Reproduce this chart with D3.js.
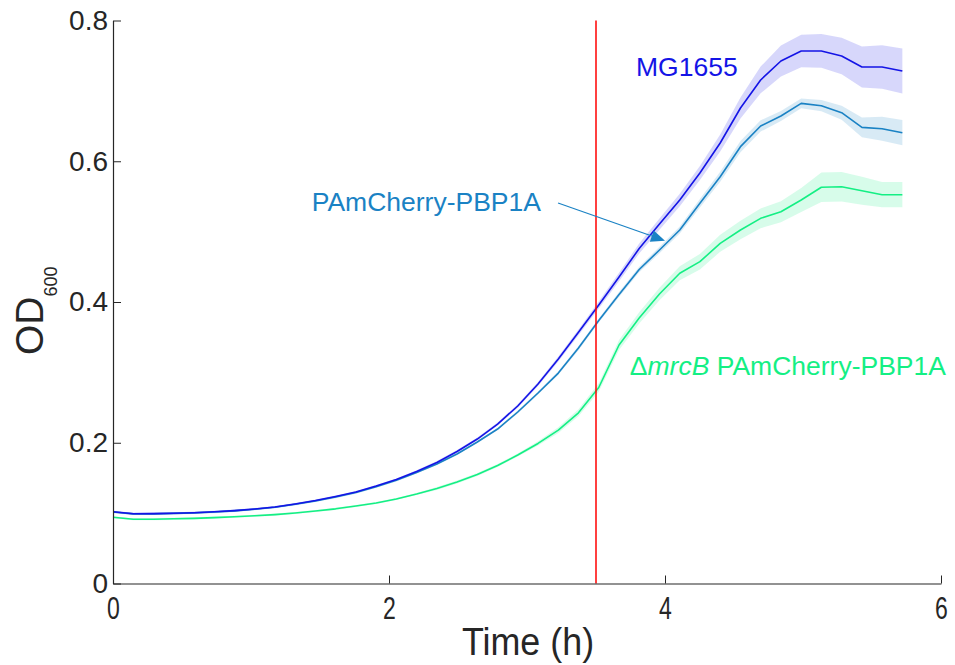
<!DOCTYPE html>
<html>
<head>
<meta charset="utf-8">
<script src="https://cdn.jsdelivr.net/npm/d3@7"></script>
<style>
  html, body { margin: 0; padding: 0; background: #ffffff; }
  svg { display: block; }
  text { font-family: "Liberation Sans", Arial, Helvetica, sans-serif; }
</style>
</head>
<body>
<div id="chart"></div>
<script>
// Growth curves (OD600) sampled over time, mean with standard deviation bands
const timeH = [0, 0.147, 0.293, 0.44, 0.587, 0.733, 0.88, 1.027, 1.173, 1.32,
  1.467, 1.613, 1.76, 1.907, 2.053, 2.2, 2.347, 2.493, 2.64, 2.787,
  2.933, 3.08, 3.227, 3.373, 3.52, 3.667, 3.813, 3.96, 4.107, 4.253,
  4.4, 4.547, 4.693, 4.84, 4.987, 5.133, 5.28, 5.427, 5.573, 5.72];

const mg1655Mean = [0.1020, 0.0992, 0.0993, 0.0999, 0.1006, 0.1019, 0.1036, 0.1059, 0.1087, 0.1130,
  0.1179, 0.1236, 0.1300, 0.1385, 0.1478, 0.1591, 0.1719, 0.1876, 0.2053, 0.2266,
  0.2522, 0.2835, 0.3190, 0.3569, 0.3957, 0.4355, 0.4760, 0.5108, 0.5449, 0.5833,
  0.6259, 0.6757, 0.7155, 0.7425, 0.7567, 0.7567, 0.7496, 0.7339, 0.7339, 0.7282];
const mg1655Sd = [0.0015, 0.0015, 0.0015, 0.0015, 0.0015, 0.0015, 0.0015, 0.0015, 0.0015, 0.0015,
  0.0015, 0.0015, 0.0015, 0.0015, 0.0015, 0.002, 0.002, 0.002, 0.002, 0.002,
  0.0025, 0.003, 0.0035, 0.004, 0.005, 0.006, 0.007, 0.008, 0.009, 0.010,
  0.012, 0.015, 0.019, 0.022, 0.023, 0.024, 0.026, 0.029, 0.031, 0.032];

const pamMean = [0.1015, 0.0990, 0.0990, 0.0996, 0.1003, 0.1015, 0.1032, 0.1055, 0.1083, 0.1125,
  0.1172, 0.1228, 0.1292, 0.1376, 0.1466, 0.1577, 0.1698, 0.1840, 0.2011, 0.2195,
  0.2437, 0.2707, 0.2990, 0.3346, 0.3737, 0.4107, 0.4462, 0.4739, 0.5023, 0.5402,
  0.5780, 0.6207, 0.6501, 0.6643, 0.6823, 0.6789, 0.6690, 0.6482, 0.6462, 0.6406];
const pamSd = [0.0015, 0.0015, 0.0015, 0.0015, 0.0015, 0.0015, 0.0015, 0.0015, 0.0015, 0.0015,
  0.0015, 0.0015, 0.0015, 0.0015, 0.0015, 0.0015, 0.0015, 0.0015, 0.0015, 0.0015,
  0.002, 0.002, 0.0025, 0.003, 0.003, 0.0035, 0.004, 0.0045, 0.005, 0.006,
  0.007, 0.008, 0.008, 0.007, 0.007, 0.008, 0.010, 0.014, 0.017, 0.018];

const mrcbMean = [0.0941, 0.0912, 0.0914, 0.0919, 0.0926, 0.0936, 0.0948, 0.0962, 0.0979, 0.1002,
  0.1030, 0.1061, 0.1101, 0.1144, 0.1201, 0.1272, 0.1350, 0.1442, 0.1549, 0.1677,
  0.1826, 0.1990, 0.2180, 0.2425, 0.2785, 0.3389, 0.3773, 0.4114, 0.4408, 0.4573,
  0.4834, 0.5023, 0.5189, 0.5283, 0.5449, 0.5630, 0.5638, 0.5581, 0.5525, 0.5525];
const mrcbSd = [0.0015, 0.0015, 0.0015, 0.0015, 0.0015, 0.0015, 0.0015, 0.0015, 0.0015, 0.0015,
  0.0015, 0.0015, 0.0015, 0.0015, 0.0015, 0.0015, 0.002, 0.002, 0.002, 0.002,
  0.002, 0.003, 0.004, 0.005, 0.006, 0.007, 0.008, 0.009, 0.010, 0.011,
  0.012, 0.013, 0.014, 0.015, 0.017, 0.021, 0.021, 0.020, 0.018, 0.018];

const xTicks = [0, 2, 4, 6];
const yTicks = [0, 0.2, 0.4, 0.6, 0.8];
const yTickLabels = ["0", "0.2", "0.4", "0.6", "0.8"];
const markerTime = 3.5;

const W = 955, H = 665;
const axisColor = "#262626";

const svg = d3.select("#chart").append("svg")
  .attr("width", W).attr("height", H);

const x = d3.scaleLinear().domain([0, 6]).range([113, 941]);
const y = d3.scaleLinear().domain([0, 0.8]).range([583.5, 20.5]);

const series = [
  { name: "mrcB", mean: mrcbMean, sd: mrcbSd, color: "#14ef84" },
  { name: "pam", mean: pamMean, sd: pamSd, color: "#1a82c4" },
  { name: "mg1655", mean: mg1655Mean, sd: mg1655Sd, color: "#1414e6" }
];

const area = d3.area()
  .x(d => x(d.t))
  .y0(d => y(d.m - d.s))
  .y1(d => y(d.m + d.s));
const line = d3.line()
  .x(d => x(d.t))
  .y(d => y(d.m));

const plot = svg.append("g");
series.forEach(s => {
  const pts = timeH.map((t, i) => ({ t: t, m: s.mean[i], s: s.sd[i] }));
  plot.append("path")
    .datum(pts)
    .attr("d", area)
    .attr("fill", s.color)
    .attr("fill-opacity", 0.17)
    .attr("stroke", "none");
});
series.forEach(s => {
  const pts = timeH.map((t, i) => ({ t: t, m: s.mean[i], s: s.sd[i] }));
  plot.append("path")
    .datum(pts)
    .attr("d", line)
    .attr("fill", "none")
    .attr("stroke", s.color)
    .attr("stroke-width", 1.6)
    .attr("stroke-linejoin", "round");
});

// vertical marker
svg.append("line")
  .attr("x1", x(markerTime)).attr("x2", x(markerTime))
  .attr("y1", y(0)).attr("y2", y(0.8))
  .attr("stroke", "#ff0000").attr("stroke-width", 1.5);

// axes (ticks pointing inward, no box)
const xAxis = d3.axisBottom(x).tickValues(xTicks).tickSizeInner(-8).tickSizeOuter(0)
  .tickFormat(d3.format("d"));
const gx = svg.append("g").attr("transform", `translate(0,${y(0)})`).call(xAxis);
gx.select(".domain").attr("stroke", axisColor).attr("stroke-width", 1.2);
gx.selectAll(".tick line").attr("stroke", axisColor);
gx.selectAll(".tick text")
  .attr("fill", axisColor)
  .attr("font-size", 32)
  .attr("y", 13)
  .attr("dy", "0.71em")
  .attr("transform", "scale(0.72,1)");

const yAxis = d3.axisLeft(y).tickValues(yTicks).tickSizeInner(-8).tickSizeOuter(0)
  .tickFormat((d, i) => yTickLabels[i]);
const gy = svg.append("g").attr("transform", `translate(${x(0)},0)`).call(yAxis);
gy.select(".domain").attr("stroke", axisColor).attr("stroke-width", 1.2);
gy.selectAll(".tick line").attr("stroke", axisColor);
gy.selectAll(".tick text")
  .attr("fill", axisColor)
  .attr("font-size", 28)
  .attr("x", -5);

// axis titles
svg.append("text")
  .attr("transform", "translate(528,655) scale(0.92,1)")
  .attr("text-anchor", "middle")
  .attr("font-size", 39)
  .attr("fill", axisColor)
  .text("Time (h)");

const yl = svg.append("text")
  .attr("transform", "translate(43,355) rotate(-90)")
  .attr("text-anchor", "start")
  .attr("font-size", 39)
  .attr("fill", axisColor);
yl.append("tspan").text("OD");
yl.append("tspan").attr("font-size", 18).attr("dy", 14).text("600");

// series labels
svg.append("text")
  .attr("x", x(3.79)).attr("y", y(0.7215))
  .attr("font-size", 26.5).attr("fill", "#1414e6")
  .text("MG1655");

svg.append("text")
  .attr("x", x(1.44)).attr("y", y(0.5297))
  .attr("font-size", 26.5).attr("fill", "#1a82c4")
  .text("PAmCherry-PBP1A");

const lab3 = svg.append("text")
  .attr("x", x(3.745)).attr("y", y(0.296))
  .attr("font-size", 26.5).attr("fill", "#14ef84");
lab3.append("tspan").text("Δ");
lab3.append("tspan").attr("font-style", "italic").text("mrcB");
lab3.append("tspan").text(" PAmCherry-PBP1A");

// annotation arrow pointing at the PAmCherry-PBP1A curve
const tail = [x(3.225), y(0.5407)];
const tip = [x(4.0), y(0.4871)];
const ang = Math.atan2(tip[1] - tail[1], tip[0] - tail[0]);
const headLen = 14, headHalf = 6;
const base = [tip[0] - headLen * Math.cos(ang), tip[1] - headLen * Math.sin(ang)];
svg.append("line")
  .attr("x1", tail[0]).attr("y1", tail[1])
  .attr("x2", base[0]).attr("y2", base[1])
  .attr("stroke", "#1a82c4").attr("stroke-width", 1.2);
svg.append("path")
  .attr("d", d3.line()([
    tip,
    [base[0] + headHalf * Math.sin(ang), base[1] - headHalf * Math.cos(ang)],
    [base[0] - headHalf * Math.sin(ang), base[1] + headHalf * Math.cos(ang)]
  ]) + "Z")
  .attr("fill", "#1a82c4");
</script>
</body>
</html>
